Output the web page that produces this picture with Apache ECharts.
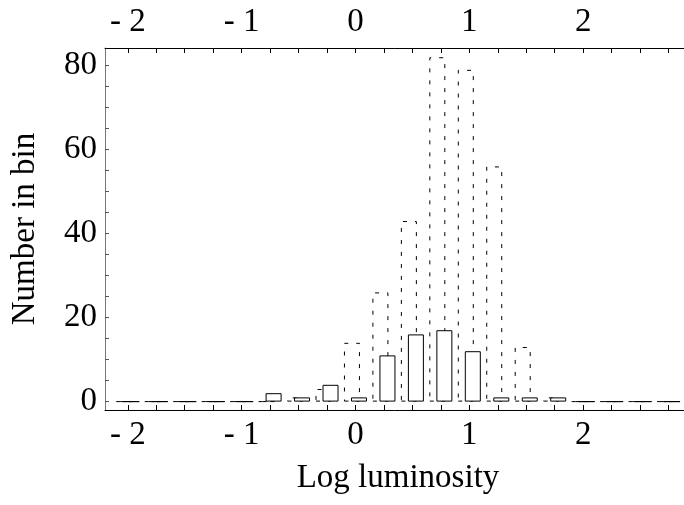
<!DOCTYPE html>
<html>
<head>
<meta charset="utf-8">
<script src="https://cdn.jsdelivr.net/npm/echarts@6/dist/echarts.min.js"></script>
<style>
  html, body { margin: 0; padding: 0; background: #fff; }
  #chart { width: 684px; height: 505px; }
</style>
</head>
<body>
<div id="chart"></div>
<script>
// ---- data ----
var binCenters = [-2, -1.75, -1.5, -1.25, -1, -0.75, -0.5, -0.25, 0, 0.25, 0.5, 0.75, 1, 1.25, 1.5, 1.75, 2, 2.25, 2.5, 2.75];
var totalCounts = [0, 0, 0, 0, 0, 0, 1, 3, 14, 26, 43, 82, 79, 56, 13, 1, 0, 0, 0, 0];   // dashed bars
var subsetCounts = [0, 0, 0, 0, 0, 2, 1, 4, 1, 11, 16, 17, 12, 1, 1, 1, 0, 0, 0, 0];    // solid bars
var xTickValues = [-2, -1.75, -1.5, -1.25, -1, -0.75, -0.5, -0.25, 0, 0.25, 0.5, 0.75, 1, 1.25, 1.5, 1.75, 2, 2.25, 2.5, 2.75];
var xLabelValues = [-2, -1, 0, 1, 2];
var xLabelTexts = ['- 2', '- 1', '0', '1', '2'];
var yTickValues = [0, 5, 10, 15, 20, 25, 30, 35, 40, 45, 50, 55, 60, 65, 70, 75, 80];
var yLabelValues = [0, 20, 40, 60, 80];
var xTitle = 'Log luminosity';
var yTitle = 'Number in bin';

var FONT = '"Liberation Serif", "Times New Roman", serif';
var FS = 33;

function pairs(xs, ys) {
  return xs.map(function (x, i) { return [x, ys[i]]; });
}
function xLabelFmt(v) {
  for (var i = 0; i < xLabelValues.length; i++) {
    if (Math.abs(xLabelValues[i] - v) < 1e-9) return xLabelTexts[i];
  }
  return '';
}

function xAxisDef(pos) {
  return {
    type: 'value',
    position: pos,
    min: -2.2,
    max: 3.0,
    axisLine: { show: true, onZero: false, lineStyle: { color: '#000', width: 1 } },
    axisTick: { show: true, inside: true, length: 5, customValues: xTickValues, lineStyle: { color: '#000', width: 1 } },
    axisLabel: { show: true, customValues: xLabelValues, formatter: xLabelFmt, margin: 9,
                 fontFamily: FONT, fontSize: FS, color: '#000' },
    splitLine: { show: false }
  };
}

var chart = echarts.init(document.getElementById('chart'), null, { renderer: 'canvas' });
chart.setOption({
  backgroundColor: '#fff',
  animation: false,
  grid: { left: 105, top: 48, width: 592, height: 362, containLabel: false, outerBoundsMode: 'none' },
  xAxis: [xAxisDef('bottom'), xAxisDef('top')],
  yAxis: {
    type: 'value',
    position: 'left',
    min: -2,
    max: 84.2,
    axisLine: { show: true, onZero: false, lineStyle: { color: '#777', width: 1 } },
    axisTick: { show: true, inside: true, length: 4, customValues: yTickValues, lineStyle: { color: '#555' } },
    axisLabel: { show: true, customValues: yLabelValues, margin: 8, fontFamily: FONT, fontSize: FS, color: '#000' },
    splitLine: { show: false },
    name: yTitle,
    nameLocation: 'middle',
    nameGap: 63,
    nameRotate: 90,
    nameTextStyle: { fontFamily: FONT, fontSize: FS, color: '#000' }
  },
  graphic: [{
    type: 'text',
    x: 398, y: 478,
    style: { text: xTitle, font: FS + 'px ' + FONT, fill: '#000', align: 'center', verticalAlign: 'middle' }
  }],
  series: [
    {
      type: 'bar',
      xAxisIndex: 0,
      data: pairs(binCenters, totalCounts),
      barWidth: 16,
      barGap: '-56%',
      itemStyle: { color: 'rgba(0,0,0,0)', borderColor: '#000', borderWidth: 1, borderType: [4, 8] },
      emphasis: { disabled: true },
      z: 2
    },
    {
      type: 'bar',
      xAxisIndex: 0,
      data: pairs(binCenters, subsetCounts),
      barWidth: 16,
      barGap: '-56%',
      itemStyle: { color: '#fff', borderColor: '#000', borderWidth: 1 },
      emphasis: { disabled: true },
      z: 3
    }
  ]
});
</script>
</body>
</html>
